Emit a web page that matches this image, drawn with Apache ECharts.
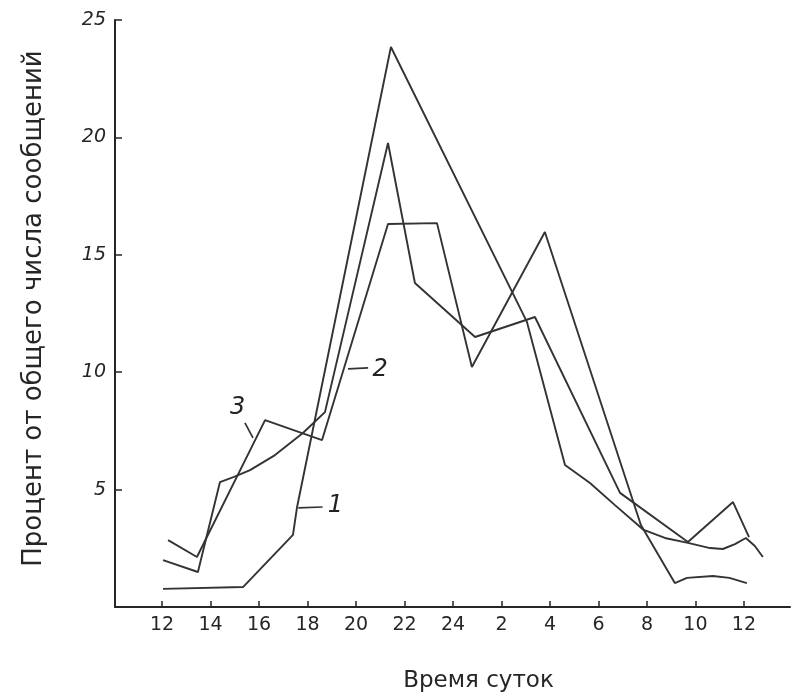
<!DOCTYPE html>
<html>
<head>
<meta charset="utf-8">
<script src="https://cdn.jsdelivr.net/npm/echarts@6/dist/echarts.min.js"></script>
<style>
html,body{margin:0;padding:0;background:#fff;}
#chart{width:791px;height:700px;}
</style>
</head>
<body>
<div id="chart"></div>
<script>
// Hours run continuously 12..36 (36 = 12 next day); tick labels wrap past 24
const tickHours = [12,14,16,18,20,22,24,26,28,30,32,34,36];
const tickLabels = ['12','14','16','18','20','22','24','2','4','6','8','10','12'];

// Curve 1
const hours1 = [12.04,15.34,17.40,17.57,21.44,27.05,28.62,29.65,30.68,31.84,32.74,33.69,34.60,35.13,35.63,36.08,36.45,36.78];
const values1 = [0.77,0.85,3.07,4.26,23.85,12.14,6.05,5.28,4.34,3.30,2.94,2.73,2.51,2.47,2.68,2.94,2.60,2.13];

// Curve 2
const hours2 = [12.04,13.48,14.39,14.97,15.63,16.66,17.81,18.72,21.32,22.43,24.91,27.38,30.89,33.69,35.55,36.21];
const values2 = [2.00,1.49,5.32,5.54,5.83,6.47,7.41,8.30,19.76,13.80,11.50,12.35,4.86,2.77,4.47,2.98];

// Curve 3
const hours3 = [12.25,13.44,16.25,18.60,21.32,23.34,24.78,27.79,31.75,33.15,33.65,34.72,35.40,36.12];
const values3 = [2.85,2.13,7.96,7.11,16.31,16.35,10.22,15.97,3.49,1.02,1.24,1.32,1.24,1.02];

// Curve number callouts: pointer start/end and label position (hour, percent)
const calloutNames = ['1','2','3'];
const calloutFrom = [[17.62,4.22],[19.67,10.14],[15.75,7.20]];
const calloutTo   = [[18.62,4.26],[20.50,10.18],[15.42,7.84]];
const calloutText = [[19.15,4.30],[21.00,10.10],[15.12,8.50]];

const yTitle = 'Процент от общего числа сообщений';
const xTitle = 'Время суток';

const ink = '#262626';
const zip = (h, v) => h.map((x, i) => [x, v[i]]);

const series = [];
[[hours1, values1], [hours2, values2], [hours3, values3]].forEach((s, i) => {
  series.push({
    type: 'line', name: 'curve' + (i + 1), data: zip(s[0], s[1]),
    symbol: 'none', lineStyle: { color: '#333', width: 1.9 }, silent: true, animation: false
  });
});
calloutNames.forEach((n, i) => {
  series.push({
    type: 'line', data: [calloutFrom[i], calloutTo[i]], symbol: 'none',
    lineStyle: { color: '#333', width: 1.7 }, silent: true, animation: false
  });
});
series.push({
  type: 'scatter', symbolSize: 0, silent: true, animation: false,
  itemStyle: { opacity: 1 },
  data: calloutText.map((p, i) => ({ value: p, name: calloutNames[i] })),
  label: {
    show: true, position: 'inside', formatter: p => p.name,
    fontSize: 24, fontStyle: 'italic', fontFamily: 'DejaVu Sans', color: '#222', opacity: 1
  }
});

const chart = echarts.init(document.getElementById('chart'));
chart.setOption({
  backgroundColor: '#fff',
  animation: false,
  grid: { left: 115, right: 1, top: 20, bottom: 93, containLabel: false },
  xAxis: {
    type: 'value', min: 10.06, max: 37.9,
    name: xTitle, nameLocation: 'middle', nameGap: 63,
    nameTextStyle: { fontSize: 23, fontFamily: 'DejaVu Sans', color: ink, padding: [0, 0, 0, 52] },
    axisLine: { show: true, lineStyle: { color: ink, width: 2 } },
    axisTick: { show: true, inside: true, length: 6, customValues: tickHours, lineStyle: { color: ink, width: 1.5 } },
    axisLabel: {
      show: true, customValues: tickHours, margin: 9,
      formatter: v => { const i = tickHours.indexOf(Math.round(v)); return i >= 0 ? tickLabels[i] : ''; },
      fontSize: 19, fontFamily: 'DejaVu Sans', color: ink
    },
    splitLine: { show: false }
  },
  yAxis: {
    type: 'value', min: 0, max: 25, interval: 5,
    name: yTitle, nameLocation: 'middle', nameGap: 68, nameRotate: 90,
    nameTextStyle: { fontSize: 26, fontFamily: 'DejaVu Sans', color: ink, padding: [0, 0, 0, 10] },
    axisLine: { show: true, lineStyle: { color: ink, width: 2 } },
    axisTick: { show: true, inside: true, length: 7, lineStyle: { color: ink, width: 1.5 } },
    axisLabel: {
      show: true, margin: 9, formatter: v => v === 0 ? '' : String(v),
      fontSize: 19, fontStyle: 'italic', fontFamily: 'DejaVu Sans', color: ink
    },
    splitLine: { show: false }
  },
  series: series
});
</script>
</body>
</html>
